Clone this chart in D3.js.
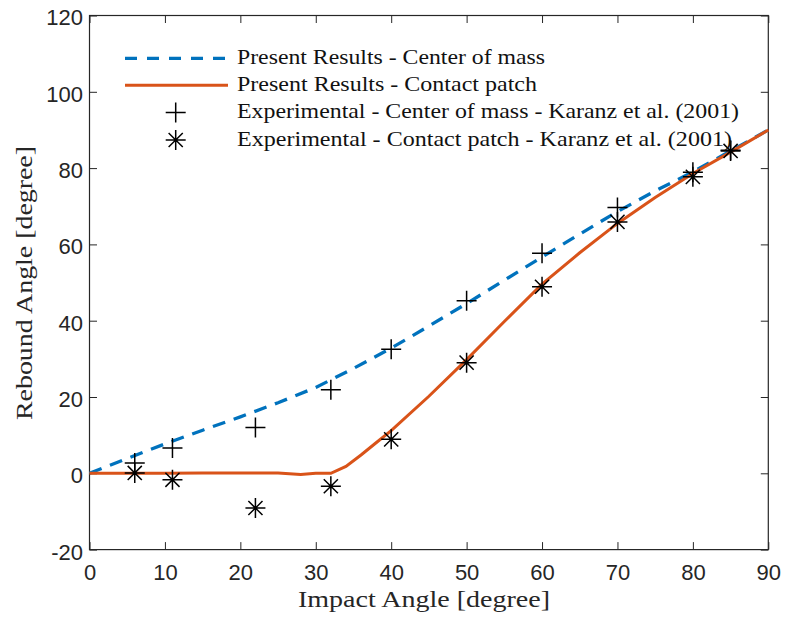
<!DOCTYPE html>
<html>
<head>
<meta charset="utf-8">
<script src="https://cdn.jsdelivr.net/npm/d3@7"></script>
<style>
  body { margin: 0; background: #fff; }
  svg { display: block; }
</style>
</head>
<body>
<svg id="chart" width="787" height="621"></svg>
<script>
// Simulated rebound angle of the center of mass (dashed blue)
const comModelAngle = [0, 5, 10, 15, 20, 25, 30, 35, 40, 45, 50, 55, 60, 65, 70, 75, 80, 85, 90];
const comModel      = [0, 3.9, 7.7, 11.3, 14.8, 18.5, 22.5, 27.5, 32.8, 38.6, 44.5, 50.6, 56.7, 62.7, 68.6, 74, 79, 84.5, 90];

// Simulated rebound angle of the contact patch (solid orange)
const cpModelAngle = [0, 5, 10, 15, 20, 25, 28, 30, 32, 34, 36, 38, 40, 45, 50, 55, 60, 65, 70, 75, 80, 85, 90];
const cpModel      = [0, 0, 0, 0.1, 0.1, 0.1, -0.3, 0, 0, 1.8, 4.8, 8, 11.2, 20.2, 29.8, 39.8, 49.6, 57.8, 65.5, 72.3, 78.6, 84.2, 90];

// Measurements, Karanz et al. (2001)
const expAngle = [6, 11, 22, 32, 40, 50, 60, 70, 80, 85];
const comExp   = [2.7, 6.6, 12.0, 21.9, 32.5, 45.2, 57.7, 69.7, 78.9, 84.7];
const cpExp    = [0.1, -1.7, -9.1, -3.4, 8.9, 29.0, 48.9, 65.9, 77.7, 84.5];

const xTicks = [0, 10, 20, 30, 40, 50, 60, 70, 80, 90];
const yTicks = [-20, 0, 20, 40, 60, 80, 100, 120];

const legendLabels = [
  "Present Results - Center of mass",
  "Present Results - Contact patch",
  "Experimental - Center of mass - Karanz et al. (2001)",
  "Experimental - Contact patch - Karanz et al. (2001)"
];
const xLabel = "Impact Angle [degree]";
const yLabel = "Rebound Angle [degree]";

const blue = "#0072BD", orange = "#D95319", axisColor = "#262626";

const svg = d3.select("#chart");
const box = { left: 89.5, right: 768.3, top: 15.5, bottom: 549.6 };

const x = d3.scaleLinear().domain([0, 90]).range([box.left, box.right]);
const y = d3.scaleLinear().domain([-20, 120]).range([box.bottom, box.top]);

const tickFont = "'Liberation Sans', Arial, Helvetica, sans-serif";
const serifFont = "'Liberation Serif', 'Times New Roman', serif";

// Axes with inward ticks on all four sides
const gx = svg.append("g").attr("transform", `translate(0,${box.bottom})`)
  .call(d3.axisBottom(x).tickValues(xTicks).tickFormat(d => String(d))
    .tickSizeInner(-7.5).tickSizeOuter(0).tickPadding(14.5));
const gxt = svg.append("g").attr("transform", `translate(0,${box.top})`)
  .call(d3.axisTop(x).tickValues(xTicks).tickFormat("")
    .tickSizeInner(-7.5).tickSizeOuter(0));
const gy = svg.append("g").attr("transform", `translate(${box.left},0)`)
  .call(d3.axisLeft(y).tickValues(yTicks).tickFormat(d => String(d))
    .tickSizeInner(-7.5).tickSizeOuter(0).tickPadding(6.5));
const gyr = svg.append("g").attr("transform", `translate(${box.right},0)`)
  .call(d3.axisRight(y).tickValues(yTicks).tickFormat("")
    .tickSizeInner(-7.5).tickSizeOuter(0));

[gx, gxt, gy, gyr].forEach(g => {
  g.select(".domain").remove();
  g.selectAll(".tick line").attr("stroke", axisColor).attr("stroke-width", 1);
  g.selectAll(".tick text").attr("fill", axisColor)
    .style("font-family", tickFont).style("font-size", "22px");
});
gy.selectAll(".tick text").attr("dy", "0.43em");

// Axes box
svg.append("rect")
  .attr("x", box.left).attr("y", box.top)
  .attr("width", box.right - box.left).attr("height", box.bottom - box.top)
  .attr("fill", "none").attr("stroke", axisColor).attr("stroke-width", 1.2);

// Model curves
const line = d3.line().x(d => x(d[0])).y(d => y(d[1]));
svg.append("path")
  .datum(comModelAngle.map((a, i) => [a, comModel[i]]))
  .attr("d", line).attr("fill", "none")
  .attr("stroke", blue).attr("stroke-width", 3.3)
  .attr("stroke-dasharray", "13,9");
svg.append("path")
  .datum(cpModelAngle.map((a, i) => [a, cpModel[i]]))
  .attr("d", line).attr("fill", "none")
  .attr("stroke", orange).attr("stroke-width", 3);

// Marker shapes
const r = 10, rd = r * Math.SQRT1_2;
const plusPath = `M${-r},0H${r}M0,${-r}V${r}`;
const starPath = plusPath + `M${-rd},${-rd}L${rd},${rd}M${-rd},${rd}L${rd},${-rd}`;

svg.append("g").selectAll("path")
  .data(expAngle.map((a, i) => [a, comExp[i]]))
  .join("path")
  .attr("transform", d => `translate(${x(d[0])},${y(d[1])})`)
  .attr("d", plusPath).attr("fill", "none")
  .attr("stroke", "#000").attr("stroke-width", 1.5);

svg.append("g").selectAll("path")
  .data(expAngle.map((a, i) => [a, cpExp[i]]))
  .join("path")
  .attr("transform", d => `translate(${x(d[0])},${y(d[1])})`)
  .attr("d", starPath).attr("fill", "none")
  .attr("stroke", "#000").attr("stroke-width", 1.5);

// Legend (no frame)
const legendRows = [58.3, 85.2, 112.5, 140];
const legendWidths = [308, 300, 502, 495];
const lg = svg.append("g");
lg.append("line").attr("x1", 125).attr("x2", 228).attr("y1", legendRows[0]).attr("y2", legendRows[0])
  .attr("stroke", blue).attr("stroke-width", 3.3).attr("stroke-dasharray", "12,10");
lg.append("line").attr("x1", 125).attr("x2", 228).attr("y1", legendRows[1]).attr("y2", legendRows[1])
  .attr("stroke", orange).attr("stroke-width", 3);
lg.append("path").attr("transform", `translate(175.7,${legendRows[2]})`).attr("d", plusPath)
  .attr("fill", "none").attr("stroke", "#000").attr("stroke-width", 1.5);
lg.append("path").attr("transform", `translate(175.7,${legendRows[3]})`).attr("d", starPath)
  .attr("fill", "none").attr("stroke", "#000").attr("stroke-width", 1.5);
lg.selectAll("text").data(legendLabels).join("text")
  .attr("x", 237).attr("y", (d, i) => legendRows[i] + 5.5)
  .attr("textLength", (d, i) => legendWidths[i]).attr("lengthAdjust", "spacingAndGlyphs")
  .style("font-family", serifFont).style("font-size", "21px").attr("fill", "#111")
  .text(d => d);

// Axis titles
svg.append("text")
  .attr("x", 424).attr("y", 607).attr("text-anchor", "middle")
  .attr("textLength", 252).attr("lengthAdjust", "spacingAndGlyphs")
  .style("font-family", serifFont).style("font-size", "23.5px").attr("fill", axisColor)
  .text(xLabel);
svg.append("text")
  .attr("transform", "translate(32,283) rotate(-90)").attr("text-anchor", "middle")
  .attr("textLength", 274).attr("lengthAdjust", "spacingAndGlyphs")
  .style("font-family", serifFont).style("font-size", "23.5px").attr("fill", axisColor)
  .text(yLabel);
</script>
</body>
</html>
